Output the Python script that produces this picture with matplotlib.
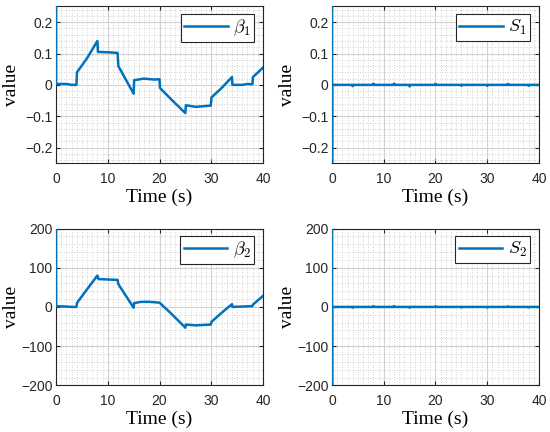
import matplotlib
matplotlib.use("Agg")
import matplotlib.pyplot as plt
import numpy as np
from matplotlib.ticker import MultipleLocator

plt.rcParams["mathtext.fontset"] = "cm"
plt.rcParams["font.family"] = ["Liberation Sans", "DejaVu Sans"]

blue = "#0072BD"

# beta_1
t_b1 = [0, 0.02, 2, 3, 3.95, 4.05, 6, 8, 8.1, 10, 11.9, 12.05, 15, 15.1, 17, 19, 20, 20.1,
        22.5, 25, 25.1, 27, 29.9, 30.05, 32, 34, 34.1, 36, 37, 37.95, 38.05, 40]
b1 = [1.0, 0.003, 0.003, 0.0, 0.0, 0.04, 0.085, 0.14, 0.105, 0.104, 0.102, 0.06, -0.028, 0.015,
      0.02, 0.017, 0.018, -0.01, -0.05, -0.09, -0.065, -0.07, -0.066, -0.04, -0.01, 0.025,
      0.0, 0.0, 0.003, 0.002, 0.025, 0.055]

# beta_2
t_b2 = [0, 0.02, 2, 3, 3.95, 4.05, 6, 8, 8.2, 10, 11.9, 12.05, 15, 15.1, 16.5, 18, 20,
        22.5, 25, 25.1, 27, 29.9, 30.05, 32, 34, 34.1, 36, 37.95, 38.05, 40]
b2 = [400, 2, 1, 0, 0, 10, 45, 80, 71, 70, 69, 58, -2, 10, 13, 13, 11,
      -20, -53, -45, -47, -45, -38, -15, 7, 0, 1, 2, 6, 28]

# S_1 and S_2: start spike, then ~0 with tiny blips at switching times
t_s = [0, 0.01, 0.02, 3.9, 4, 4.1, 7.9, 8, 8.1, 11.9, 12, 12.1, 14.9, 15, 15.1, 19.9, 20, 20.1,
       24.9, 25, 25.1, 29.9, 30, 30.1, 33.9, 34, 34.1, 37.9, 38, 38.1, 40]
s1 = [1.0, -1.0, 0, 0, -0.004, 0, 0, 0.004, 0, 0, 0.004, 0, 0, -0.005, 0, 0, 0.003, 0,
      0, -0.003, 0, 0, -0.003, 0, 0, 0.003, 0, 0, -0.003, 0, 0]
s2 = [1000, -1000, 0, 0, -2, 0, 0, 2, 0, 0, 2, 0, 0, -2, 0, 0, 1.5, 0,
      0, -1.5, 0, 0, -1.5, 0, 0, 1.5, 0, 0, -1.5, 0, 0]

panels = [
    (t_b1, b1, r"$\beta_1$", 0.25, 0.1, 0.02),
    (t_s, s1, r"$S_1$", 0.25, 0.1, 0.02),
    (t_b2, b2, r"$\beta_2$", 200, 100, 20),
    (t_s, s2, r"$S_2$", 200, 100, 20),
]

fig = plt.figure(figsize=(5.5, 4.32), dpi=100)
lefts = [0.1018, 0.6036]
bottoms = [0.622, 0.108]
w, h = 0.3764, 0.363

for i, (t, v, lab, lim, major, minor) in enumerate(panels):
    ax = fig.add_axes([lefts[i % 2], bottoms[i // 2], w, h])
    ax.plot(t, v, color=blue, lw=1.8, label=lab, zorder=3)
    ax.set_xlim(0, 40)
    ax.set_ylim(-lim, lim)
    ax.xaxis.set_major_locator(MultipleLocator(10))
    ax.xaxis.set_minor_locator(MultipleLocator(1))
    ax.yaxis.set_major_locator(MultipleLocator(major))
    ax.yaxis.set_minor_locator(MultipleLocator(minor))
    if major < 1:
        ax.yaxis.set_major_formatter(
            plt.FuncFormatter(lambda y, p: "0" if abs(y) < 1e-9 else ("%g" % y).replace("-", "\u2212")))
    ax.grid(True, which="major", color="#d2d2d2", lw=0.8)
    ax.grid(True, which="minor", color="#c4c4c4", lw=0.6, ls=(0, (1, 2)))
    ax.set_axisbelow(True)
    ax.tick_params(which="both", direction="in", top=True, right=True, labelsize=10,
                   colors="#262626", length=3)
    ax.tick_params(axis="y", pad=2.5)
    ax.tick_params(axis="x", pad=6)
    ax.tick_params(which="minor", length=0)
    for s in ax.spines.values():
        s.set_color("#262626")
        s.set_linewidth(0.8)
    ax.set_xlabel("Time (s)", family="Liberation Serif", fontsize=14, labelpad=2)
    ax.set_ylabel("value", family="Liberation Serif", fontsize=14)
    ax.yaxis.set_label_coords(-0.175, 0.5)
    leg = ax.legend(loc="upper right", fontsize=13, fancybox=False, framealpha=1,
                    edgecolor="#262626", handlelength=2.4, handletextpad=0.3,
                    borderpad=0.2, borderaxespad=0, bbox_to_anchor=(0.957, 0.95))
    leg.get_frame().set_linewidth(0.8)

fig.savefig("out.png", dpi=100)
